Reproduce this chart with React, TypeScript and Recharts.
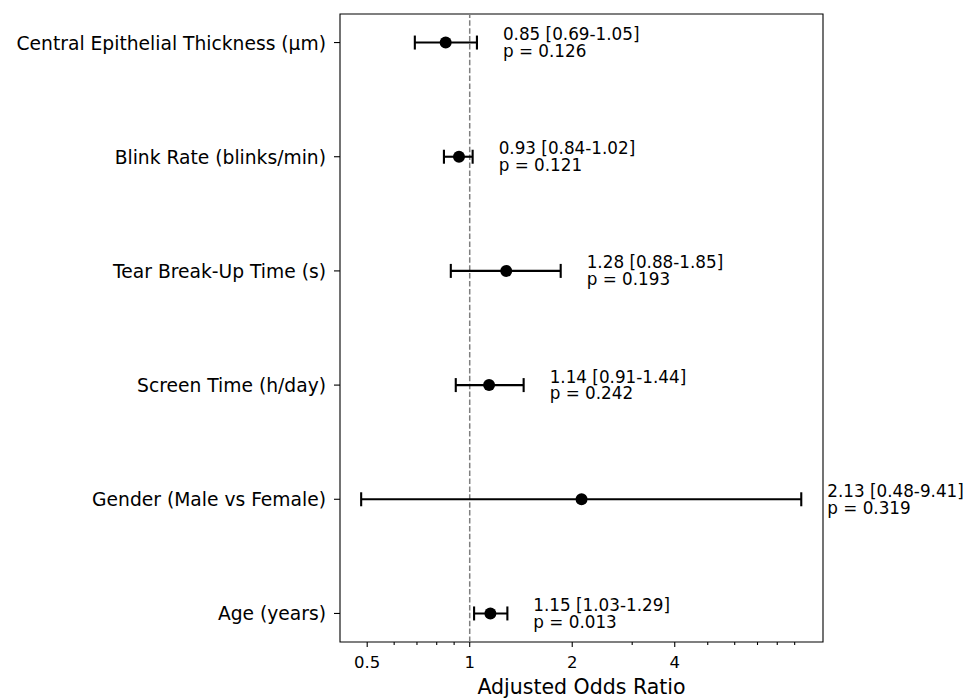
import React from 'react';
import {
    ScatterChart,
    Scatter,
    XAxis,
    YAxis,
    ErrorBar,
    ReferenceLine,
    ReferenceArea,
} from 'recharts';

// Forest plot of adjusted odds ratios (bottom to top)
const categories = [
    'Age (years)',
    'Gender (Male vs Female)',
    'Screen Time (h/day)',
    'Tear Break-Up Time (s)',
    'Blink Rate (blinks/min)',
    'Central Epithelial Thickness (µm)',
];
const oddsRatios = [1.15, 2.13, 1.14, 1.28, 0.93, 0.85];
const ciLower = [1.03, 0.48, 0.91, 0.88, 0.84, 0.69];
const ciUpper = [1.29, 9.41, 1.44, 1.85, 1.02, 1.05];
const pValues = ['0.013', '0.319', '0.242', '0.193', '0.121', '0.126'];

const majorTicks = [0.5, 1, 2, 4];
const minorTicks = [0.6, 0.7, 0.8, 0.9, 3, 5, 6, 7, 8, 9];
const yTicks = [0, 1, 2, 3, 4, 5];

const FONT = 'DejaVu Sans, sans-serif';

const points = categories.map((name, i) => ({
    name,
    x: oddsRatios[i],
    y: i,
    err: [oddsRatios[i] - ciLower[i], ciUpper[i] - oddsRatios[i]],
}));

const annotations = categories.map((name, i) => ({
    name,
    x: ciUpper[i],
    y: i,
    line1: `${oddsRatios[i].toFixed(2)} [${ciLower[i].toFixed(2)}-${ciUpper[i].toFixed(2)}]`,
    line2: `p = ${pValues[i]}`,
}));

const XTick = (props: any) => {
    const { x, y, payload } = props;
    const isMajor = majorTicks.includes(payload.value);
    return (
        <g>
            <line x1={x} x2={x} y1={y} y2={y + (isMajor ? 5 : 3)} stroke="#000" strokeWidth={1.1} />
            {isMajor && (
                <text x={x} y={y + 26} textAnchor="middle" style={{ fontSize: 16.5, fontFamily: FONT }} fill="#000">
                    {payload.value}
                </text>
            )}
        </g>
    );
};

const YTick = (props: any) => {
    const { x, y, payload } = props;
    return (
        <text x={x} y={y + 7} textAnchor="end" style={{ fontSize: 18.7, fontFamily: FONT }} fill="#000">
            {categories[payload.value]}
        </text>
    );
};

const Dot = (props: any) => <circle cx={props.cx} cy={props.cy} r={6} fill="#000" />;

const Annotation = (props: any) => {
    const { cx, cy, payload } = props;
    return (
        <text x={cx + 26} y={cy - 2.5} style={{ fontSize: 16.8, fontFamily: FONT }} fill="#000">
            <tspan x={cx + 26}>{payload.line1}</tspan>
            <tspan x={cx + 26} dy={16.9}>{payload.line2}</tspan>
        </text>
    );
};

export default function App() {
    return (
        <div style={{ position: 'absolute', left: 0, top: 0, background: '#fff' }}>
            <ScatterChart
                width={970}
                height={698}
                margin={{ top: 14, right: 147, bottom: 0, left: 0 }}
                style={{ fontFamily: FONT }}
            >
                <XAxis
                    type="number"
                    dataKey="x"
                    scale="log"
                    domain={[0.416, 10.9]}
                    ticks={[...majorTicks, ...minorTicks]}
                    interval={0}
                    height={56}
                    axisLine={false}
                    tickLine={false}
                    tickSize={0}
                    tickMargin={0}
                    tick={<XTick />}
                    label={{
                        value: 'Adjusted Odds Ratio',
                        position: 'insideBottom',
                        offset: 4,
                        fontSize: 20.5,
                        fill: '#000',
                    }}
                />
                <YAxis
                    type="number"
                    dataKey="y"
                    domain={[-0.25, 5.25]}
                    ticks={yTicks}
                    interval={0}
                    width={340}
                    axisLine={false}
                    tickSize={6}
                    tickMargin={8}
                    tickLine={{ stroke: '#000', strokeWidth: 1.1 }}
                    tick={<YTick />}
                />
                <ReferenceLine x={1} stroke="#7f7f7f" strokeWidth={1.5} strokeDasharray="5.5 2.4" />
                <ReferenceArea
                    x1={0.416}
                    x2={10.9}
                    y1={-0.25}
                    y2={5.25}
                    fill="none"
                    fillOpacity={0}
                    stroke="#000"
                    strokeWidth={1.1}
                    strokeOpacity={1}
                />
                <Scatter data={points} shape={<Dot />} isAnimationActive={false}>
                    <ErrorBar dataKey="err" direction="x" width={7} strokeWidth={2.1} stroke="#000" />
                </Scatter>
                <Scatter data={annotations} shape={<Annotation />} isAnimationActive={false} />
            </ScatterChart>
        </div>
    );
}
